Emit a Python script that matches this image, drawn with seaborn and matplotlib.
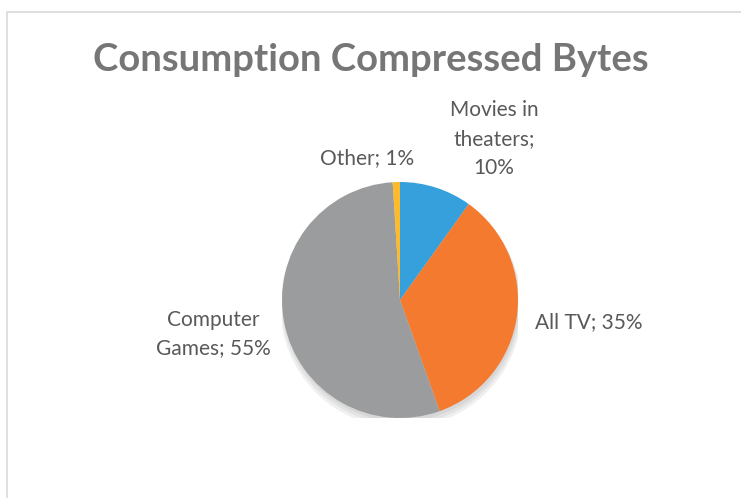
import matplotlib
matplotlib.use("Agg")
import matplotlib.pyplot as plt
import matplotlib.patches as mpatches
import seaborn as sns

# data
categories = ["Movies in theaters", "All TV", "Computer Games", "Other"]
shares = [10, 35, 55, 1]
label_texts = ["Movies in\ntheaters;\n10%", "All TV; 35%", "Computer\nGames; 55%", "Other; 1%"]
slice_colors = ["#35A0DC", "#F47A30", "#9A9C9D", "#FDBA2C"]

sns.set_theme(style="white")
plt.rcParams["font.family"] = ["Lato", "DejaVu Sans"]

W, H = 741, 498
fig = plt.figure(figsize=(W / 100, H / 100), dpi=100)
fig.patch.set_facecolor("white")

# chart border (Excel-style frame)
fig.patches.append(mpatches.Rectangle((7 / W, -0.05), 1.2, 1 - 12 / H + 0.05,
                                      transform=fig.transFigure, fill=False,
                                      edgecolor="#D9D9D9", linewidth=1.2))

cx, cy, r = 400, 300, 118
ax = fig.add_axes([(cx - r) / W, (H - cy - r) / H, 2 * r / W, 2 * r / H])

# soft shadow under the pie
for i, a in enumerate([0.05, 0.05, 0.06]):
    ax.add_patch(mpatches.Circle((0.01, -0.03 - 0.015 * i), 1.0 + 0.012 * i,
                                 color="black", alpha=a, zorder=0, lw=0))

ax.pie(shares, colors=slice_colors, startangle=90, counterclock=False,
       radius=1.0, wedgeprops=dict(linewidth=0))
ax.set_xlim(-1.0, 1.0)
ax.set_ylim(-1.0, 1.0)
ax.set_aspect("equal")
ax.axis("off")

# title
fig.text(0.5, 1 - 60 / H, "Consumption Compressed Bytes", ha="center", va="center",
         fontsize=27.5, fontweight="bold", color="#767676")

# data labels
txt = dict(ha="center", va="center", fontsize=15, color="#595959", linespacing=1.55)
positions = [(494, 139), (589, 322), (213, 334), (367, 158)]
for (x, y), s in zip(positions, label_texts):
    fig.text(x / W, 1 - y / H, s, **txt)

fig.savefig("out.png", dpi=100)
